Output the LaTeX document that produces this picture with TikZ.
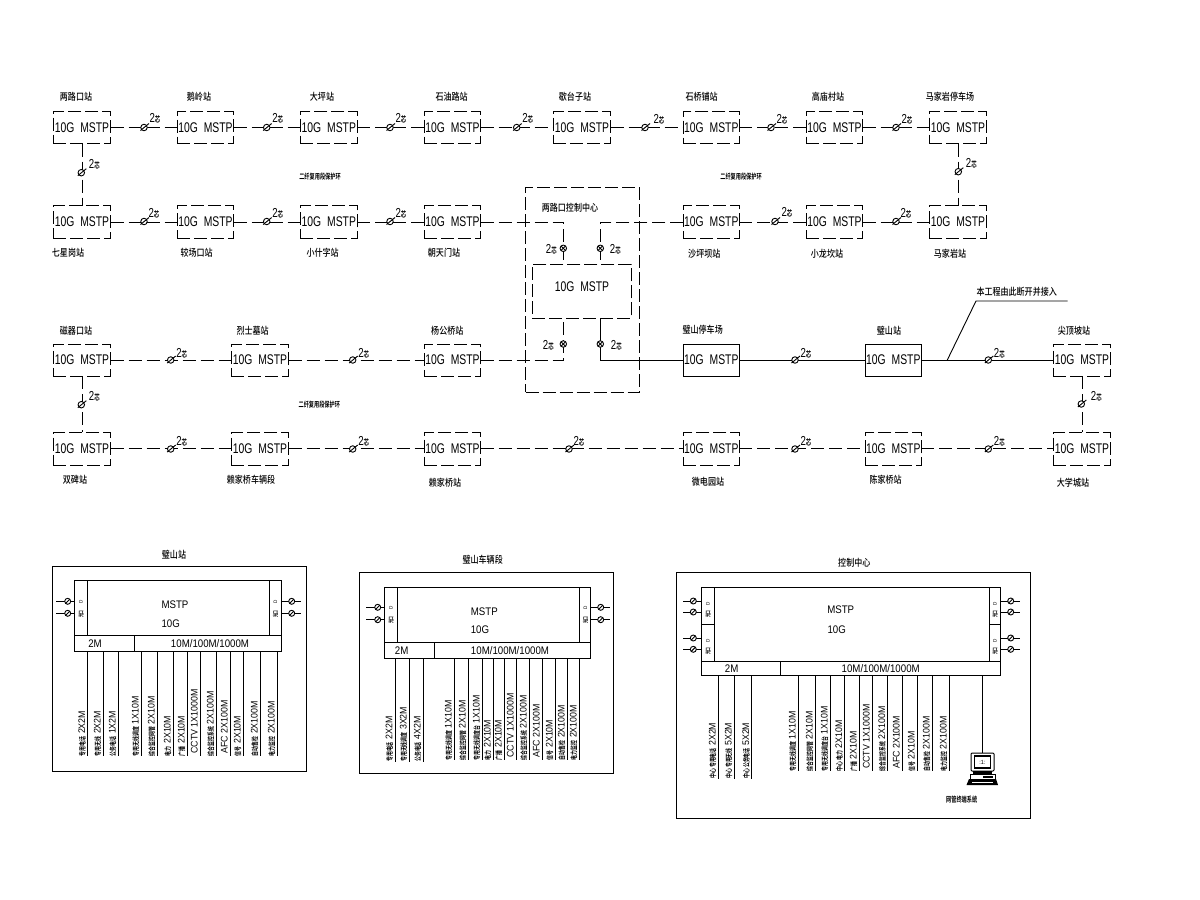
\documentclass[tikz,border=0pt]{standalone}
\usepackage{fontspec}
\usetikzlibrary{calc}
\newfontfamily\boxlatin[FakeStretch=0.74]{Liberation Sans}
\newfontfamily\midlatin[FakeStretch=0.88]{Liberation Sans}
\newfontfamily\reglatin[FakeStretch=0.92]{Liberation Sans}
\newfontfamily\cjkname[FakeStretch=0.82]{Noto Sans CJK SC Medium}
\newfontfamily\cjkbold[FakeStretch=0.68]{Noto Sans CJK SC Bold}
\newcounter{lbl}
\newcommand\tgm{10G\hspace{3pt} MSTP}
\tikzset{
  x=1pt,y=-1pt,
  every node/.style={inner sep=0pt,outer sep=0pt},
  dashline/.style={line width=0.9pt,dash pattern=on 13pt off 5pt},
  solidline/.style={line width=0.9pt},
  stnbase/.style={minimum width=57pt,minimum height=32.5pt,line width=0.9pt,
    font=\boxlatin\fontsize{14}{14}\selectfont},
  stndash/.style={stnbase,draw,dash pattern=on 13pt off 4pt},
  stnsolid/.style={stnbase,draw},
  fibre/.style={circle,draw,line width=0.9pt,minimum size=6.5pt,fill=white},
  slash/.style={line width=0.9pt},
  tagtext/.style={font=\boxlatin\fontsize{13}{13}\selectfont},
  namelabel/.style={font=\cjkname\fontsize{9.8}{10}\selectfont},
  ringlabel/.style={font=\cjkbold\fontsize{7.6}{8}\selectfont},
  paneltext/.style={font=\midlatin\fontsize{11}{11}\selectfont},
  droplabel/.style={rotate=90,anchor=base west,font=\reglatin\fontsize{9.6}{10}\selectfont},
  frame/.style={draw,line width=0.9pt},
  portlabel/.style={rotate=90,font=\cjkbold\fontsize{5.5}{6}\selectfont},
}
\newcommand\stn[6]{\node[#6,minimum width={#3pt-#2pt},minimum height={#5pt-#4pt}] (#1) at ({(#2+#3)/2},{(#4+#5)/2}) {\tgm};}
\newcommand\nm[3]{\stepcounter{lbl}\node[namelabel] (n\thelbl) at (#1,#2) {#3};}
\newcommand\fm[5]{\node[fibre] (#1) at (#2,#3) {};
  \draw[slash] ($(#1)+(-3.5,3)$) -- ($(#1)+(5,-4)$);
  \node[tagtext] (#1t) at ($(#1)+(#4,#5)$) {2{\cjkbold\fontsize{8}{8}\selectfont 芯}};}
\newcommand\cm[5]{\node[fibre] (#1) at (#2,#3) {};
  \draw[slash] ($(#1)+(-2.3,2.3)$) -- ($(#1)+(2.3,-2.3)$);
  \draw[slash] ($(#1)+(-2.3,-2.3)$) -- ($(#1)+(2.3,2.3)$);
  \node[tagtext] (#1t) at ($(#1)+(#4,#5)$) {2{\cjkbold\fontsize{8}{8}\selectfont 芯}};}
\newcommand\dr[5]{\stepcounter{lbl}\coordinate (e\thelbl) at (#2,#3);
  \draw[solidline] (#1.south -| e\thelbl) -- (e\thelbl);
  \node[droplabel] (d\thelbl) at (#2-2.7,#3) {{\cjkbold\fontsize{7.2}{8}\selectfont #4} #5};}
\newcommand\pt[4]{\stepcounter{lbl}\coordinate (p\thelbl) at (#3,#2);
  \draw[solidline] (#1 |- p\thelbl) -- (p\thelbl);
  \node[circle,draw,fill=white,line width=0.9pt,minimum size=6pt] (c\thelbl) at (#4,#2) {};
  \draw[slash] ($(c\thelbl)+(-2,2)$) -- ($(c\thelbl)+(2,-2)$);}
\newcommand\pl[3]{\stepcounter{lbl}\node[portlabel,font=\reglatin\fontsize{5}{5}\selectfont] (q\thelbl) at (#1,#2) {D};
  \stepcounter{lbl}\node[portlabel] (q\thelbl) at (#1,#3) {光口};}
\begin{document}
\begin{tikzpicture}
\useasboundingbox (0,0) rectangle (1200,900);
\fill[white] (0,0) rectangle (1200,900);

%% Row 1
\stn{a1}{53.3}{110.7}{111.5}{143.5}{stndash}
\stn{a2}{177.3}{233.7}{111.5}{143.5}{stndash}
\stn{a3}{300.3}{357.3}{111.5}{143.5}{stndash}
\stn{a4}{424.3}{480.7}{111.5}{143.5}{stndash}
\stn{a5}{553.3}{610.7}{111.5}{143.5}{stndash}
\stn{a6}{683.3}{739.3}{111.5}{143.5}{stndash}
\stn{a7}{806.3}{862.7}{111.5}{143.5}{stndash}
\stn{a8}{929.3}{986.7}{111.5}{143.5}{stndash}
%% Row 2
\stn{b1}{53.3}{110.7}{205.7}{238.3}{stndash}
\stn{b2}{177.3}{233.7}{205.7}{238.3}{stndash}
\stn{b3}{300.3}{357.3}{205.7}{238.3}{stndash}
\stn{b4}{424.3}{480.7}{205.7}{238.3}{stndash}
\stn{b6}{683.3}{739.3}{205.7}{238.3}{stndash}
\stn{b7}{806.3}{862.7}{205.7}{238.3}{stndash}
\stn{b8}{929.3}{986.7}{205.7}{238.3}{stndash}
%% Row 3
\stn{c1}{53.3}{110.7}{344.3}{376}{stndash}
\stn{c2}{231.3}{288.7}{344.3}{376}{stndash}
\stn{c3}{424.3}{480.7}{344.3}{376}{stndash}
\stn{c4}{683.3}{739.3}{344.3}{376}{stnsolid}
\stn{c5}{865.3}{921.3}{344.3}{376}{stnsolid}
\stn{c6}{1053.3}{1110.7}{344.3}{376}{stndash}
%% Row 4
\stn{d1}{53.3}{110.7}{432.3}{465.3}{stndash}
\stn{d2}{231.3}{288.7}{432.3}{465.3}{stndash}
\stn{d3}{424.3}{480.7}{432.3}{465.3}{stndash}
\stn{d4}{683.3}{739.3}{432.3}{465.3}{stndash}
\stn{d5}{865.3}{921.3}{432.3}{465.3}{stndash}
\stn{d6}{1053.3}{1110.7}{432.3}{465.3}{stndash}

%% Control centre
\node[draw,line width=0.9pt,dash pattern=on 13pt off 4pt,minimum width=113.6pt,minimum height=205pt] (ctr) at (582.5,289.8) {};
\node[stndash,minimum width=99pt,minimum height=54pt] (hub) at (581.8,291.3) {};
\node[font=\boxlatin\fontsize{14}{14}\selectfont] (hubt) at (582,287) {\tgm};
\node[namelabel] (ctrt) at (570,208) {两路口控制中心};
\coordinate (hl) at (563.3,0); \coordinate (hr) at (600.3,0);

%% Connectors
\foreach \p/\q in {a1/a2,a2/a3,a3/a4,a4/a5,a5/a6,a6/a7,a7/a8,b1/b2,b2/b3,b3/b4,b6/b7,b7/b8,c1/c2,c2/c3,d1/d2,d2/d3,d3/d4,d4/d5,d5/d6}
  \draw[dashline] (\p.east) -- (\q.west);
\draw[dashline] (a1.south) -- (b1.north);
\draw[dashline] (a8.south) -- (b8.north);
\draw[dashline] (c1.south) -- (d1.north);
\draw[dashline] (c6.south) -- (d6.north);
\draw[dashline] (b4.east) -| (hub.north -| hl);
\draw[dashline] (b6.west) -| (hub.north -| hr);
\draw[dashline] (c3.east) -| (hub.south -| hl);
\draw[solidline] (c4.west) -| (hub.south -| hr);
\draw[solidline] (c4.east) -- (c5.west);
\draw[solidline] (c5.east) -- (c6.west);
\coordinate (lead0) at (947.3,360);
\coordinate (lead1) at (976,301);
\coordinate (lead2) at (1067.7,301);
\draw[solidline] (lead0) -- (lead1) -- (lead2);

%% Fibre marks
\fm{m1}{144}{127.5}{11}{-9}
\fm{m2}{266.7}{127.5}{11}{-9}
\fm{m3}{390}{127.5}{11}{-9}
\fm{m4}{516.7}{127.5}{11}{-9}
\fm{m5}{645}{127.5}{14}{-8}
\fm{m6}{771}{127.5}{11}{-8}
\fm{m7}{896}{127.5}{11}{-8}
\fm{m8}{144}{221.5}{10}{-8}
\fm{m9}{266.7}{221.5}{11}{-8}
\fm{m10}{390}{221.5}{11}{-8}
\fm{m11}{775}{221.5}{12}{-9}
\fm{m12}{896}{221.5}{10}{-8}
\fm{m13}{81.3}{172.7}{13}{-8}
\fm{m14}{958.3}{171.7}{13}{-8}
\fm{m15}{170.7}{360}{11}{-7}
\fm{m16}{352.7}{360}{11}{-7}
\fm{m17}{795}{360}{11}{-7}
\fm{m18}{988.3}{360}{11}{-7}
\fm{m19}{170.7}{449}{11}{-8}
\fm{m20}{352.7}{449}{11}{-8}
\fm{m21}{569}{449}{10}{-8}
\fm{m22}{795}{449}{11}{-8}
\fm{m23}{988.3}{449}{11}{-8}
\fm{m24}{81.3}{404.7}{13}{-8}
\fm{m25}{1081.3}{404}{15}{-8}
\cm{m26}{563.3}{248.3}{-12}{1}
\cm{m27}{600.3}{248.3}{15}{1}
\cm{m28}{563.3}{344}{-15}{1}
\cm{m29}{600.3}{344}{16}{1}

%% Station names
\nm{76}{97}{两路口站}\nm{199}{97}{鹅岭站}\nm{322}{97}{大坪站}\nm{451.7}{97}{石油路站}
\nm{575}{97}{歇台子站}\nm{701.7}{97}{石桥铺站}\nm{828}{97}{高庙村站}\nm{950}{97}{马家岩停车场}
\nm{68}{252.7}{七星岗站}\nm{196.7}{252.7}{较场口站}\nm{322.7}{252.7}{小什字站}\nm{444}{252.7}{朝天门站}
\nm{704.3}{254}{沙坪坝站}\nm{827}{253.5}{小龙坎站}\nm{950}{253.5}{马家岩站}
\nm{76}{331}{磁器口站}\nm{252.7}{331}{烈士墓站}\nm{447.3}{331}{杨公桥站}\nm{702.7}{330}{璧山停车场}
\nm{889}{331}{璧山站}\nm{1074}{331}{尖顶坡站}
\nm{75}{480}{双碑站}\nm{251}{480}{赖家桥车辆段}\nm{445}{482.7}{赖家桥站}\nm{708}{482}{微电园站}
\nm{885.7}{480}{陈家桥站}\nm{1073}{483}{大学城站}
\node[namelabel] (leadt) at (1016.7,291.7) {本工程由此断开并接入};
\node[ringlabel] (r1) at (320,177) {二纤复用段保护环};
\node[ringlabel] (r2) at (741,177) {二纤复用段保护环};
\node[ringlabel] (r3) at (319.3,405) {二纤复用段保护环};

%% Panel A
\node[frame,minimum width=254.4pt,minimum height=204.3pt] (fa) at (179.5,668.85) {};
\node[namelabel] (ta) at (174,555) {璧山站};
\node[frame,minimum width=207pt,minimum height=71pt] (pa) at (177.8,615.8) {};
\draw[solidline] (74.3,635.3) -- (281.3,635.3);
\draw[solidline] (87.7,580.3) -- (87.7,635.3);
\draw[solidline] (269.7,580.3) -- (269.7,635.3);
\draw[solidline] (134.7,635.3) -- (134.7,651.3);
\node[paneltext] (a01) at (175,605) {MSTP};
\node[paneltext] (a02) at (170.7,623.3) {10G};
\node[paneltext] (a03) at (95,643.7) {2M};
\node[paneltext] (a04) at (210,643.7) {10M/100M/1000M};
\pt{pa.west}{601.3}{56}{67.7}\pt{pa.west}{613.3}{56}{67.7}
\pt{pa.east}{601.3}{300.7}{291.7}\pt{pa.east}{613.3}{300.7}{291.7}
\pl{81}{602}{614}\pl{275.5}{602}{614}
\dr{pa}{87.7}{756}{专用电话}{2X2M}
\dr{pa}{103.3}{756}{专用无线}{2X2M}
\dr{pa}{118.3}{756}{公务电话}{1X2M}
\dr{pa}{141.3}{756}{专用无线调度}{1X10M}
\dr{pa}{157.3}{756}{综合监控网管}{2X10M}
\dr{pa}{173.3}{756}{电力}{2X10M}
\dr{pa}{187.3}{756}{广播}{2X10M}
\dr{pa}{200.3}{756}{}{CCTV 1X1000M}
\dr{pa}{216.3}{756}{综合监控系统}{2X100M}
\dr{pa}{230.3}{756}{}{AFC 2X100M}
\dr{pa}{243.3}{756}{信号}{2X10M}
\dr{pa}{260.3}{756}{自动售检}{2X100M}
\dr{pa}{277.3}{756}{电力监控}{2X100M}

%% Panel B
\node[frame,minimum width=254pt,minimum height=200.6pt] (fb) at (486.3,673) {};
\node[namelabel] (tb) at (482.7,560) {璧山车辆段};
\node[frame,minimum width=206pt,minimum height=71pt] (pb) at (487.3,622.8) {};
\draw[solidline] (384.3,642.7) -- (590.3,642.7);
\draw[solidline] (397.7,587.3) -- (397.7,642.7);
\draw[solidline] (579.7,587.3) -- (579.7,642.7);
\draw[solidline] (434.7,642.7) -- (434.7,658.3);
\node[paneltext] (b01) at (484.3,611.7) {MSTP};
\node[paneltext] (b02) at (480,629.3) {10G};
\node[paneltext] (b03) at (401.7,650.7) {2M};
\node[paneltext] (b04) at (510,650.7) {10M/100M/1000M};
\pt{pb.west}{607.3}{366}{377.7}\pt{pb.west}{619.7}{366}{377.7}
\pt{pb.east}{607.3}{610}{600.7}\pt{pb.east}{619.7}{610}{600.7}
\pl{391}{608}{620}\pl{585.5}{608}{620}
\dr{pb}{395}{761.7}{专用电话}{2X2M}
\dr{pb}{409.3}{761.7}{专用无线调度}{3X2M}
\dr{pb}{423.3}{761.7}{公务电话}{4X2M}
\dr{pb}{454.3}{760}{专用无线调度}{1X10M}
\dr{pb}{468.3}{760}{综合监控网管}{2X10M}
\dr{pb}{482.3}{760}{专用无线调度台}{1X10M}
\dr{pb}{493.3}{760}{电力}{2X10M}
\dr{pb}{504.3}{760}{广播}{2X10M}
\dr{pb}{516.3}{760}{}{CCTV 1X1000M}
\dr{pb}{529.3}{760}{综合监控系统}{2X100M}
\dr{pb}{542.3}{760}{}{AFC 2X100M}
\dr{pb}{555.3}{760}{信号}{2X10M}
\dr{pb}{567.3}{760}{自动售检}{2X100M}
\dr{pb}{579.3}{760}{电力监控}{2X100M}

%% Panel C
\node[frame,minimum width=353.3pt,minimum height=246pt] (fc) at (853.35,695.3) {};
\node[namelabel] (tc) at (854.3,562.3) {控制中心};
\node[frame,minimum width=299.4pt,minimum height=88pt] (pc) at (851,631.3) {};
\draw[solidline] (701.3,661.3) -- (1000.7,661.3);
\draw[solidline] (714.3,587.3) -- (714.3,661.3);
\draw[solidline] (989.3,587.3) -- (989.3,661.3);
\draw[solidline] (701.3,624.7) -- (714.3,624.7);
\draw[solidline] (989.3,624.7) -- (1000.7,624.7);
\draw[solidline] (780.3,661.3) -- (780.3,675.3);
\node[paneltext] (c01) at (840.7,610) {MSTP};
\node[paneltext] (c02) at (836.7,630) {10G};
\node[paneltext] (c03) at (731.7,668.7) {2M};
\node[paneltext] (c04) at (880.7,668.7) {10M/100M/1000M};
\pt{pc.west}{601}{683.3}{693.3}\pt{pc.west}{612}{683.3}{693.3}
\pt{pc.west}{638}{683.3}{693.3}\pt{pc.west}{649.3}{683.3}{693.3}
\pt{pc.east}{601}{1020}{1010.7}\pt{pc.east}{612}{1020}{1010.7}
\pt{pc.east}{638}{1020}{1010.7}\pt{pc.east}{649.3}{1020}{1010.7}
\pl{708}{604}{614}\pl{995}{604}{614}\pl{708}{641}{651}\pl{995}{641}{651}
\dr{pc}{718.3}{778.7}{中心 专用电话}{2X2M}
\dr{pc}{734.3}{778.7}{中心 专用无线}{5X2M}
\dr{pc}{751.7}{778.7}{中心 公务电话}{5X2M}
\dr{pc}{798.3}{771.3}{专用无线调度}{1X10M}
\dr{pc}{815.3}{771.3}{综合监控网管}{2X10M}
\dr{pc}{830.3}{771.3}{专用无线调度台}{1X10M}
\dr{pc}{844.7}{771.3}{中心 电力}{2X10M}
\dr{pc}{859.3}{771.3}{广播}{2X10M}
\dr{pc}{872.3}{771.3}{}{CCTV 1X1000M}
\dr{pc}{887.7}{771.3}{综合监控系统}{2X100M}
\dr{pc}{902.3}{771.3}{}{AFC 2X100M}
\dr{pc}{917.3}{771.3}{信号}{2X10M}
\dr{pc}{932.3}{771.3}{自动售检}{2X100M}
\dr{pc}{949.3}{771.3}{电力监控}{2X100M}
%% Computer terminal
\coordinate (pcx) at (982.3,753);
\draw[solidline] (pc.south -| pcx) -- (pcx);
\draw[line width=1pt,rounded corners=1pt] (971,753) rectangle (994,771);
\draw[line width=1.3pt] (974.5,756) rectangle (990.5,768);
\node[font=\reglatin\fontsize{6}{6}\selectfont] (scr) at (982.5,762) {:1:};
\fill (973,771) rectangle (992,774);
\draw[line width=0.9pt] (970,774) rectangle (995,779);
\fill (983,775.5) rectangle (993,777.5);
\fill (969,779) -- (996,779) -- (998,785) -- (966.5,785) -- cycle;
\draw[white,line width=0.5pt] (972,782) -- (993,782);
\node[ringlabel] (pct) at (961.7,799.3) {网管终端系统};
\end{tikzpicture}
\end{document}
